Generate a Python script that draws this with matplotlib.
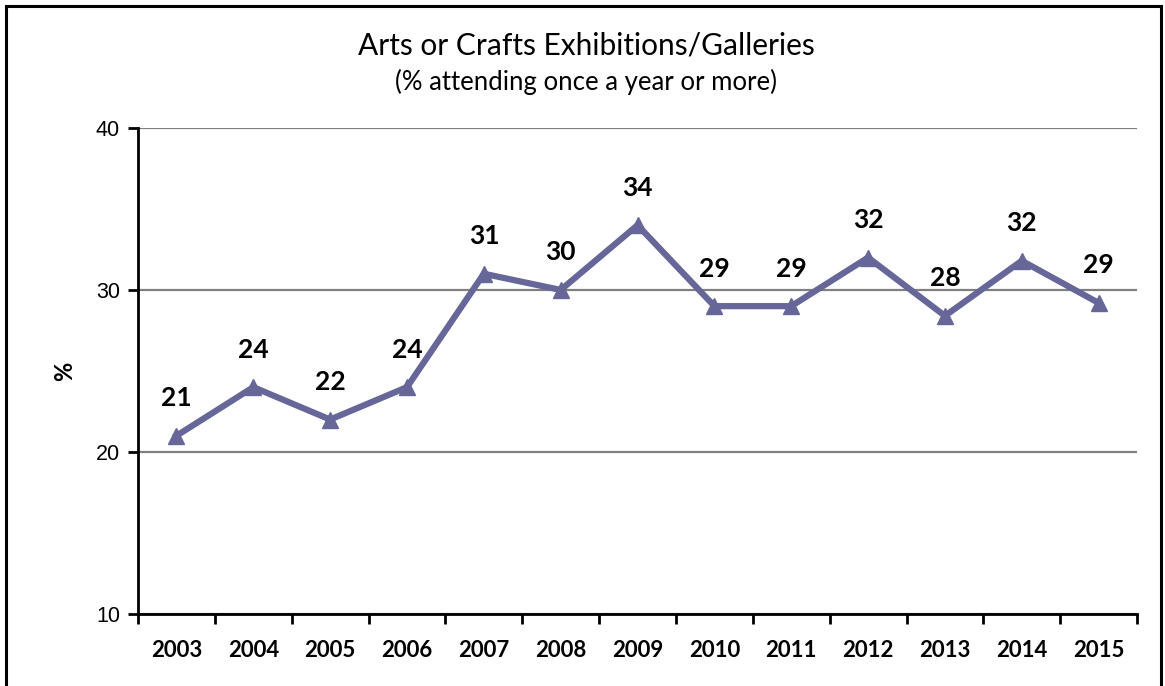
import matplotlib.pyplot as plt
from matplotlib.patches import Rectangle

# attendance series
years = ['2003', '2004', '2005', '2006', '2007', '2008', '2009',
         '2010', '2011', '2012', '2013', '2014', '2015']
attendance = [21, 24, 22, 24, 31, 30, 34, 29, 29, 32, 28.4, 31.8, 29.2]
y_ticks = [10, 20, 30, 40]

LINE_COLOR = '#666699'
TEXT_FONT = ['Lato', 'DejaVu Sans']
TICK_FONT = ['Liberation Sans', 'DejaVu Sans']

fig = plt.figure(figsize=(11.65, 6.86), dpi=100)
ax = fig.add_axes([0.1185, 0.105, 0.8575, 0.7085])

# outer frame around the whole chart
fig.patches.append(Rectangle((6 / 1165, -0.05), 1155 / 1165, 1.05 - 6 / 686,
                             transform=fig.transFigure, fill=False,
                             edgecolor='black', linewidth=2.2))

x = list(range(len(years)))
ax.plot(x, attendance, color=LINE_COLOR, linewidth=4.5, marker='^',
        markersize=11, markeredgecolor=LINE_COLOR, zorder=3)

for xi, v in zip(x, attendance):
    ax.annotate(f'{v:.0f}', (xi, v), xytext=(0, 27), textcoords='offset points',
                ha='center', va='center', fontsize=19, family=TEXT_FONT,
                fontweight='bold', color='black')

ax.set_ylim(10, 40)
ax.set_xlim(-0.5, len(years) - 0.5)
ax.set_yticks(y_ticks)
ax.set_yticklabels([str(t) for t in y_ticks], family=TICK_FONT, fontsize=15.5)
ax.yaxis.grid(True, color='#808080', linewidth=1.6)
ax.set_axisbelow(True)

# category labels centred, ticks on the boundaries
ax.set_xticks(x)
ax.set_xticklabels(years, family=TEXT_FONT, fontsize=16, fontweight='bold')
ax.tick_params(axis='x', which='major', length=0, pad=19)
ax.set_xticks([i - 0.5 for i in range(len(years) + 1)], minor=True)
ax.tick_params(axis='x', which='minor', length=7, width=2, direction='out')
ax.tick_params(axis='y', length=7, width=2, direction='out', pad=6)

for side in ['top', 'right']:
    ax.spines[side].set_visible(False)
for side in ['left', 'bottom']:
    ax.spines[side].set_linewidth(2)

ax.set_ylabel('%', family=TEXT_FONT, fontsize=17, fontweight='bold', labelpad=14)

fig.text(0.503, 0.934, 'Arts or Crafts Exhibitions/Galleries', ha='center',
         va='center', family=TEXT_FONT, fontsize=21.5)
fig.text(0.503, 0.881, '(% attending once a year or more)', ha='center',
         va='center', family=TEXT_FONT, fontsize=18.5)

fig.savefig('out.png', dpi=100)
